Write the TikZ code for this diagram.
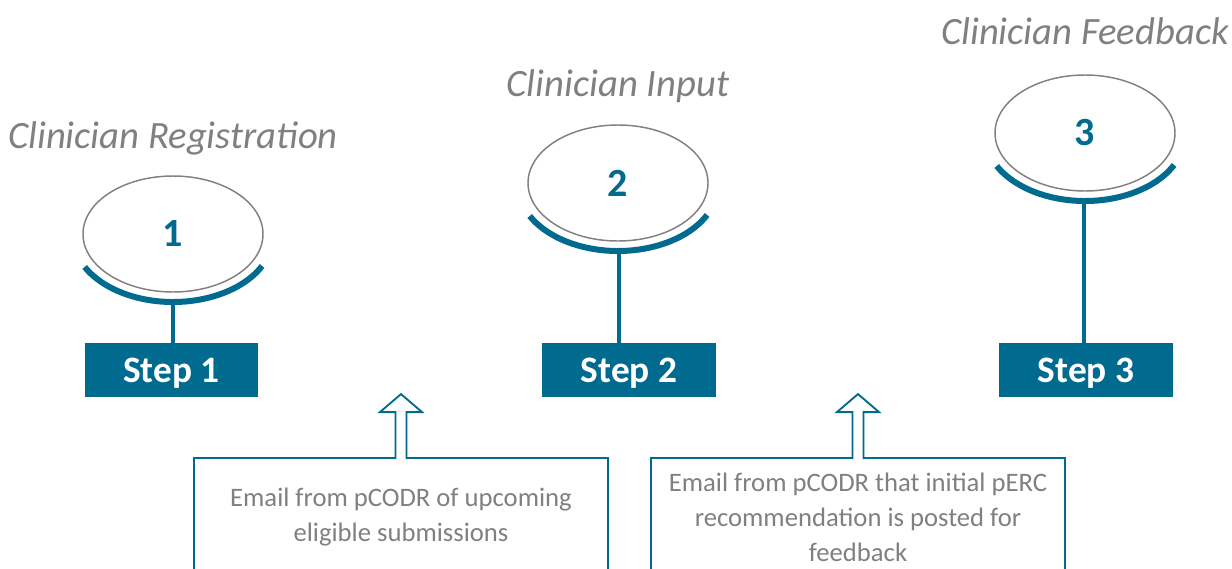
\documentclass[tikz,border=0pt]{standalone}
\usepackage{fontspec}
\setmainfont{Carlito}
\usepackage{tikz}
\usetikzlibrary{shapes.geometric}
\usetikzlibrary{positioning}
\usetikzlibrary{calc}
\definecolor{pteal}{RGB}{0,106,143}
\definecolor{pgrey}{RGB}{128,128,128}

\begin{document}
\begin{tikzpicture}[x=0.75pt,y=-0.75pt]

\useasboundingbox (0,0) rectangle (1232,568);
\clip (0,0) rectangle (1232,568);

\tikzstyle{disc}=[draw=pgrey,line width=1.1pt,ellipse,minimum width=135pt,minimum height=87pt,inner sep=0pt,text=pteal,font=\fontsize{30}{32}\selectfont\bfseries]
\tikzstyle{cup}=[draw=pteal,line width=4.5pt]
\tikzstyle{stem}=[draw=pteal,line width=3pt]
\tikzstyle{stepbox}=[fill=pteal,minimum width=130pt,minimum height=40.5pt,inner sep=0pt,text depth=0pt,text=white,font=\fontsize{28}{30}\selectfont\bfseries]
\tikzstyle{title}=[text=pgrey,inner sep=0pt,text depth=0pt,font=\fontsize{29}{31}\selectfont\itshape]
\tikzstyle{mailbox}=[draw=pteal,line width=1.4pt,minimum width=310pt,minimum height=88.5pt,inner sep=0pt,align=center,text=pgrey,font=\fontsize{20}{26.3}\selectfont]
\tikzstyle{hollow}=[draw=pteal,line width=1.4pt,fill=white,line join=miter]

% DISCS
\node [disc] (c1) at (173,234) {1};
\node [disc] (c2) at (618,183) {2};
\node [disc] (c3) at (1085,133) {3};

% TITLES
\node [title,above=20pt of c1] (t1) {Clinician Registration};
\node [title,above=21pt of c2] (t2) {Clinician Input};
\node [title,above=22pt of c3] (t3) {Clinician Feedback};

% CUPS
\foreach \c in {c1,c2,c3}
  \draw [cup] ($(\c.center)+(0,2)$) ++(27:100 and 66) arc (27:152:100 and 66);
\coordinate (u1) at ($(c1.center)+(0,68)$);
\coordinate (u2) at ($(c2.center)+(1,68)$);
\coordinate (u3) at ($(c3.center)+(-1,68)$);

% STEPS
\node [stepbox] (s1) at (171.5,370) {Step 1};
\node [stepbox] (s2) at (629,370) {Step 2};
\node [stepbox] (s3) at (1086,370) {Step 3};

\draw [stem] (u1) -- (u1 |- s1.north);
\draw [stem] (u2) -- (u2 |- s2.north);
\draw [stem] (u3) -- (u3 |- s3.north);

% EMAILS
\node [mailbox] (m1) at (401,517) {Email from pCODR of upcoming\\eligible submissions};
\node [mailbox] (m2) at (858,517) {Email from pCODR that initial pERC\\recommendation is posted for\\feedback};

% ARROWS
\coordinate (a1) at ($(m1.north)+(0,-63)$);
\coordinate (a2) at ($(m2.north)+(0,-63)$);
\foreach \a/\m in {a1/m1,a2/m2}
  \draw [hollow] ($(\m.north)+(-5.5,2)$) -- ++(0,-47) -- ++(-15.5,0) -- (\a) -- ++(21,18) -- ++(-15.5,0) -- ++(0,47);

\end{tikzpicture}
\end{document}
